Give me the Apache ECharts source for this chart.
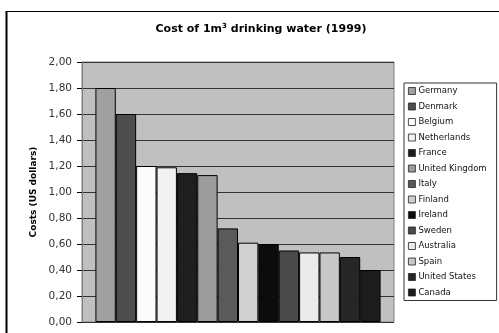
<!DOCTYPE html>
<html>
<head>
<meta charset="utf-8">
<script src="https://cdn.jsdelivr.net/npm/echarts@6/dist/echarts.min.js"></script>
<style>
  html, body { margin: 0; padding: 0; background: #fff; }
  #main { width: 499px; height: 333px; }
</style>
</head>
<body>
<div id="main"></div>
<script>
var chartDom = document.getElementById('main');
var myChart = echarts.init(chartDom);
var option;

// one bar per country
var countries = ['Germany', 'Denmark', 'Belgium', 'Netherlands', 'France', 'United Kingdom', 'Italy',
  'Finland', 'Ireland', 'Sweden', 'Australia', 'Spain', 'United States', 'Canada'];
var costs = [1.80, 1.60, 1.20, 1.19, 1.145, 1.13, 0.72, 0.61, 0.60, 0.55, 0.535, 0.535, 0.50, 0.40];
var barColors = ['#a0a0a0', '#4d4d4d', '#fcfcfc', '#f2f2f2', '#1e1e1e', '#9c9c9c', '#5a5a5a',
  '#d0d0d0', '#0c0c0c', '#4a4a4a', '#ebebeb', '#c8c8c8', '#262626', '#1c1c1c'];
var yTicks = { min: 0, max: 2, step: 0.2 };

var font = 'DejaVu Sans, sans-serif';

var series = countries.map(function (name, i) {
  return {
    name: name,
    type: 'bar',
    barGap: '0%',
    barCategoryGap: '8.6%',
    itemStyle: { color: barColors[i], borderColor: '#000', borderWidth: 1 },
    emphasis: { disabled: true },
    data: [costs[i]]
  };
});

option = {
  animation: false,
  backgroundColor: '#fff',
  title: {
    text: 'Cost of 1m{sup|3} drinking water (1999)',
    left: 256,
    textAlign: 'center',
    top: 18,
    textStyle: {
      fontFamily: font,
      fontSize: 11,
      fontWeight: 'bold',
      color: '#000',
      rich: {
        sup: { fontFamily: font, fontSize: 7, fontWeight: 'bold', verticalAlign: 'top', padding: [0, 0, 6, 0] }
      }
    }
  },
  graphic: [
    { type: 'line', shape: { x1: 6.5, y1: 11, x2: 6.5, y2: 333 }, style: { stroke: '#000', lineWidth: 2 } },
    { type: 'line', shape: { x1: 6, y1: 11.5, x2: 499, y2: 11.5 }, style: { stroke: '#000', lineWidth: 1 } }
  ],
  legend: {
    orient: 'vertical',
    left: 404,
    top: 83,
    padding: [2.5, 10, 2.5, 4],
    backgroundColor: '#fff',
    borderColor: '#333',
    borderWidth: 1,
    itemWidth: 7,
    itemHeight: 7,
    itemGap: 4.5,
    icon: 'rect',
    selectedMode: false,
    itemStyle: { borderWidth: 0.8, borderColor: '#222' },
    textStyle: { fontFamily: font, fontSize: 8.5, color: '#111', lineHeight: 11, padding: [0, 0, 0, -2] },
    data: countries
  },
  grid: {
    left: 82,
    top: 62,
    width: 312,
    height: 260,
    show: true,
    backgroundColor: '#c0c0c0',
    borderColor: '#808080',
    borderWidth: 1
  },
  xAxis: {
    type: 'category',
    data: [''],
    axisLine: { show: false },
    axisTick: { show: false },
    axisLabel: { show: false }
  },
  yAxis: {
    type: 'value',
    min: yTicks.min,
    max: yTicks.max,
    interval: yTicks.step,
    name: 'Costs (US dollars)',
    nameLocation: 'middle',
    nameGap: 40,
    nameRotate: 90,
    nameTextStyle: { fontFamily: font, fontSize: 9, fontWeight: 'bold', color: '#000' },
    axisLine: { show: true, lineStyle: { color: '#808080' } },
    axisTick: { show: true, length: 5, lineStyle: { color: '#000' } },
    axisLabel: {
      fontFamily: font,
      fontSize: 10.5,
      color: '#333',
      margin: 10,
      formatter: function (v) { return v.toFixed(2).replace('.', ','); }
    },
    splitLine: { show: true, lineStyle: { color: '#333', width: 1 } }
  },
  series: series
};

option && myChart.setOption(option);
</script>
</body>
</html>
